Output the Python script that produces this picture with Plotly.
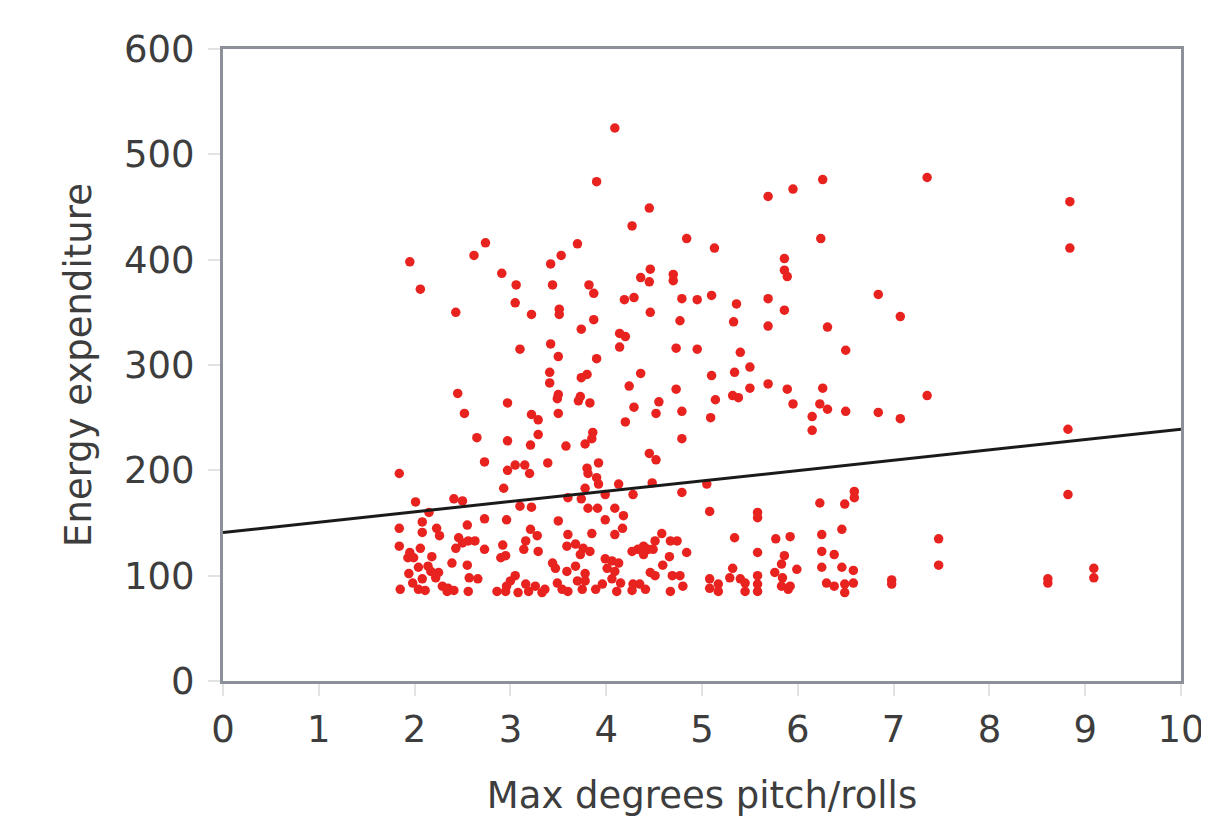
import plotly.graph_objects as go

# Scatter data (Max degrees pitch/rolls vs Energy expenditure)
pitch = [
    4.09, 3.90, 4.27, 2.74, 3.70, 1.95, 2.62, 3.53, 3.42, 2.91, 2.06, 3.06, 3.44, 3.82, 3.87,
    4.19, 3.05, 3.51, 3.51, 2.43, 3.22, 3.87, 3.74, 4.14, 4.20, 4.14, 3.10, 3.42, 3.50, 3.90,
    6.26, 5.95, 5.69, 4.45, 6.24, 4.84, 5.13, 5.86, 5.86, 5.89, 4.46, 4.36, 4.45, 4.70, 4.70,
    4.29, 4.79, 4.95, 5.10, 5.36, 5.69, 5.86, 4.46, 4.77, 5.33, 5.69, 6.31, 4.73, 4.95, 5.40,
    6.50, 7.35, 8.84, 8.84, 6.84, 7.07,
    3.41, 3.41, 3.74, 3.80, 4.24, 2.45, 3.50, 3.49, 3.73, 3.71, 3.83, 2.97, 2.52, 3.50, 3.22,
    3.29, 4.20, 3.86, 3.29, 2.65, 2.97, 3.21, 3.58, 3.78, 3.85, 2.73, 3.39, 3.92, 1.84, 2.97,
    3.05, 3.15, 3.20, 3.80, 3.81, 3.90, 3.92, 4.13, 2.93, 3.78, 2.01, 2.41, 2.50, 3.10, 3.22,
    3.60, 3.74, 3.99, 3.81, 3.91, 4.09,
    4.36, 5.10, 5.34, 5.50, 4.73, 5.32, 5.38, 5.50, 5.69, 5.89, 6.26, 4.29, 4.55, 4.52, 4.79,
    5.14, 5.09, 5.95, 6.23, 6.31, 6.50, 6.15, 6.15, 4.79, 4.45, 4.52, 4.48, 5.05, 4.28, 4.79,
    6.23, 6.49, 6.59, 6.59,
    6.84, 7.07, 7.35, 8.82, 8.82, 7.47, 7.47, 6.98, 6.98, 8.61, 8.61, 9.09, 9.09,
    2.15, 2.73, 2.96, 1.84, 2.08, 2.08, 2.23, 2.26, 2.55, 2.46, 2.50, 2.43, 2.56, 2.63, 2.73,
    2.92, 2.90, 1.84, 1.95, 1.93, 1.99, 2.06, 2.18, 2.39, 2.55, 2.04, 2.14, 1.94, 2.17, 2.25,
    2.22, 2.08, 2.57, 2.66, 1.98, 1.85, 2.04, 2.11, 2.29, 2.35, 2.41, 2.34, 2.56, 2.86, 2.95,
    2.95, 2.96,
    3.50, 3.99, 4.18, 4.17, 4.09, 3.21, 3.28, 3.16, 3.14, 3.29, 3.60, 3.59, 3.68, 3.76, 3.83,
    3.73, 3.85, 3.44, 3.47, 3.68, 3.59, 3.78, 3.99, 4.06, 4.13, 4.01, 4.09, 4.27, 3.05, 3.00,
    3.16, 3.26, 3.36, 3.33, 3.49, 3.54, 3.60, 3.70, 3.78, 3.75, 3.89, 3.96, 4.06, 4.15, 4.11,
    4.27, 3.08, 3.19,
    5.08, 5.58, 5.34, 5.58, 4.58, 4.51, 4.67, 4.74, 4.39, 4.33, 4.44, 4.49, 4.39, 4.84, 4.66,
    4.59, 4.46, 4.51, 4.69, 4.77, 4.28, 4.35, 4.41, 4.67, 4.80, 5.08, 5.08, 5.17, 5.17, 5.29,
    5.32, 5.40, 5.45, 5.45,
    5.58, 5.77, 5.92, 6.25, 6.46, 5.86, 5.83, 6.25, 6.38, 5.99, 5.76, 5.84, 6.25, 6.46, 6.58,
    5.58, 5.58, 5.58, 5.83, 5.90, 5.92, 6.30, 6.38, 6.49, 6.49, 6.58,
]

energy = [
    525, 474, 432, 416, 415, 398, 404, 404, 396, 387, 372, 376, 376, 376, 368,
    362, 359, 353, 348, 350, 348, 343, 334, 330, 327, 317, 315, 320, 308, 306,
    476, 467, 460, 449, 420, 420, 411, 401, 390, 384, 391, 383, 379, 386, 380,
    364, 363, 362, 366, 358, 363, 352, 350, 342, 341, 337, 336, 316, 315, 312,
    314, 478, 455, 411, 367, 346,
    293, 283, 288, 291, 280, 273, 272, 268, 270, 266, 264, 264, 254, 254, 253,
    248, 246, 236, 234, 231, 228, 224, 223, 225, 230, 208, 207, 207, 197, 200,
    205, 205, 197, 202, 197, 193, 187, 187, 183, 183, 170, 173, 171, 166, 165,
    174, 173, 177, 164, 164, 164,
    292, 290, 293, 298, 277, 271, 269, 278, 282, 277, 278, 260, 265, 254, 256,
    267, 250, 263, 263, 258, 256, 251, 238, 230, 216, 210, 188, 187, 177, 179,
    169, 168, 180, 174,
    255, 249, 271, 239, 177, 135, 110, 96, 92, 97, 93, 107, 98,
    160, 154, 153, 145, 151, 141, 145, 138, 148, 136, 131, 126, 133, 133, 125,
    129, 117, 128, 122, 117, 117, 126, 118, 112, 110, 108, 109, 102, 104, 103,
    98, 97, 98, 97, 93, 87, 87, 86, 90, 88, 86, 85, 85, 85, 85,
    119, 90,
    152, 153, 157, 145, 139, 144, 138, 133, 125, 123, 139, 128, 130, 126, 123,
    120, 140, 112, 107, 109, 104, 102, 116, 114, 112, 107, 104, 123, 100, 95,
    92, 90, 87, 84, 93, 87, 85, 95, 95, 87, 87, 92, 97, 93, 85,
    86, 84, 85,
    161, 160, 136, 122, 140, 133, 133, 133, 128, 125, 125, 125, 120, 122, 118,
    110, 103, 100, 100, 100, 92, 92, 87, 85, 90, 97, 88, 92, 85, 98,
    107, 97, 93, 85,
    155, 135, 137, 139, 144, 119, 111, 123, 120, 106, 103, 98, 108, 108, 105,
    100, 92, 85, 90, 87, 90, 93, 90, 92, 84, 93,
]

# Fitted line end points
trend_x = [0, 10]
trend_y = [141, 239]

x_ticks = [0, 1, 2, 3, 4, 5, 6, 7, 8, 9, 10]
y_ticks = [0, 100, 200, 300, 400, 500, 600]

x_title = "Max degrees pitch/rolls"
y_title = "Energy expenditure"

font_family = "DejaVu Sans"
text_color = "#3d3d3d"
axis_color = "#8c9099"

fig = go.Figure()
fig.add_trace(go.Scatter(
    x=pitch, y=energy, mode="markers",
    marker=dict(color="#e8231f", size=9.5, line=dict(width=0)),
    showlegend=False, hoverinfo="x+y",
))
fig.add_trace(go.Scatter(
    x=trend_x, y=trend_y, mode="lines",
    line=dict(color="#1a1a1a", width=3),
    showlegend=False, hoverinfo="skip",
))

axis_common = dict(
    showgrid=False, zeroline=False,
    showline=True, linecolor=axis_color, linewidth=3, mirror=True,
    ticks="outside", ticklen=12, tickwidth=2, tickcolor="#e2e2e2",
    tickfont=dict(family=font_family, size=37, color=text_color),
)

fig.update_xaxes(
    range=[0, 10], tickvals=x_ticks, ticktext=[str(v) for v in x_ticks],
    ticklabelstandoff=2,
    title=dict(text=x_title, font=dict(family=font_family, size=37, color=text_color), standoff=32),
    **axis_common,
)
fig.update_yaxes(
    range=[0, 600], tickvals=y_ticks, ticktext=[str(v) for v in y_ticks],
    ticklabelstandoff=6,
    title=dict(text=y_title, font=dict(family=font_family, size=37, color=text_color), standoff=22),
    **axis_common,
)

fig.update_layout(
    width=1209, height=821,
    margin=dict(l=215, r=27, t=41, b=148),
    plot_bgcolor="white", paper_bgcolor="white",
    font=dict(family=font_family, color=text_color),
)

fig.write_html("out.html")
